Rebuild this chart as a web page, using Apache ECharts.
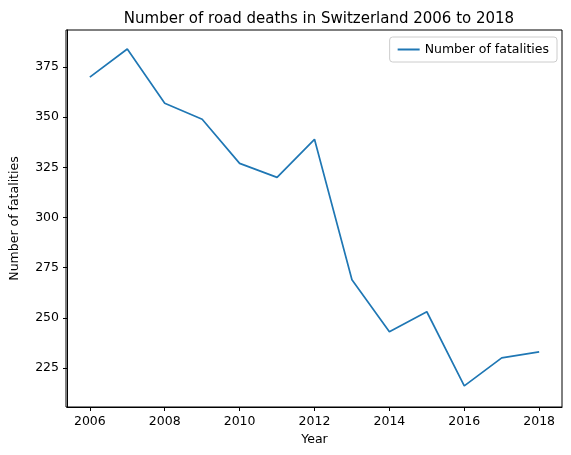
<!DOCTYPE html>
<html>
<head>
<meta charset="utf-8">
<script src="https://cdn.jsdelivr.net/npm/echarts@6/dist/echarts.min.js"></script>
<style>
  body { margin: 0; background: #fff; }
  #main { width: 571px; height: 455px; }
</style>
</head>
<body>
<div id="main"></div>
<script>
// data
var years = [2006, 2007, 2008, 2009, 2010, 2011, 2012, 2013, 2014, 2015, 2016, 2017, 2018];
var deaths = [370, 384, 357, 349, 327, 320, 339, 269, 243, 253, 216, 230, 233];
var xTicks = [2006, 2008, 2010, 2012, 2014, 2016, 2018];
var yTicks = [225, 250, 275, 300, 325, 350, 375];

var font = 'DejaVu Sans';
var chart = echarts.init(document.getElementById('main'));
chart.setOption({
  animation: false,
  textStyle: { fontFamily: font },
  title: {
    text: 'Number of road deaths in Switzerland 2006 to 2018',
    left: 314, top: 7, textAlign: 'center',
    textStyle: { fontFamily: font, fontSize: 15, fontWeight: 'normal', color: '#000' }
  },
  legend: {
    right: 14, top: 37,
    padding: [6, 8],
    borderColor: '#ccc', borderWidth: 1, borderRadius: 3,
    itemWidth: 22, itemHeight: 2,
    icon: 'rect',
    textStyle: { fontFamily: font, fontSize: 12.5, color: '#000' }
  },
  grid: { left: 66, right: 9, top: 30, bottom: 48 },
  xAxis: {
    type: 'value', min: 2005.39, max: 2018.61,
    name: 'Year', nameLocation: 'middle', nameGap: 26,
    nameTextStyle: { fontFamily: font, fontSize: 12.5, color: '#000' },
    axisLine: { onZero: false, lineStyle: { color: '#000' } },
    axisTick: { customValues: xTicks, length: 4, lineStyle: { color: '#000' } },
    axisLabel: { customValues: xTicks, color: '#000', fontSize: 12.5, fontFamily: font,
      formatter: function (v) { return String(v); } },
    splitLine: { show: false }
  },
  yAxis: {
    type: 'value', min: 205.5, max: 393.5,
    name: 'Number of fatalities', nameLocation: 'middle', nameGap: 46,
    nameTextStyle: { fontFamily: font, fontSize: 12.5, color: '#000' },
    axisLine: { show: true, lineStyle: { color: '#000' } },
    axisTick: { show: true, customValues: yTicks, length: 4, lineStyle: { color: '#000' } },
    axisLabel: { customValues: yTicks, color: '#000', fontSize: 12.5, fontFamily: font },
    splitLine: { show: false }
  },
  series: [{
    name: 'Number of fatalities',
    type: 'line',
    data: years.map(function (y, i) { return [y, deaths[i]]; }),
    showSymbol: false,
    lineStyle: { color: '#1f77b4', width: 1.7 },
    itemStyle: { color: '#1f77b4' }
  }],
  graphic: [{
    type: 'rect', shape: { x: 66, y: 30, width: 496, height: 377 },
    style: { fill: null, stroke: '#000', lineWidth: 1 }, silent: true
  }]
});
</script>
</body>
</html>
